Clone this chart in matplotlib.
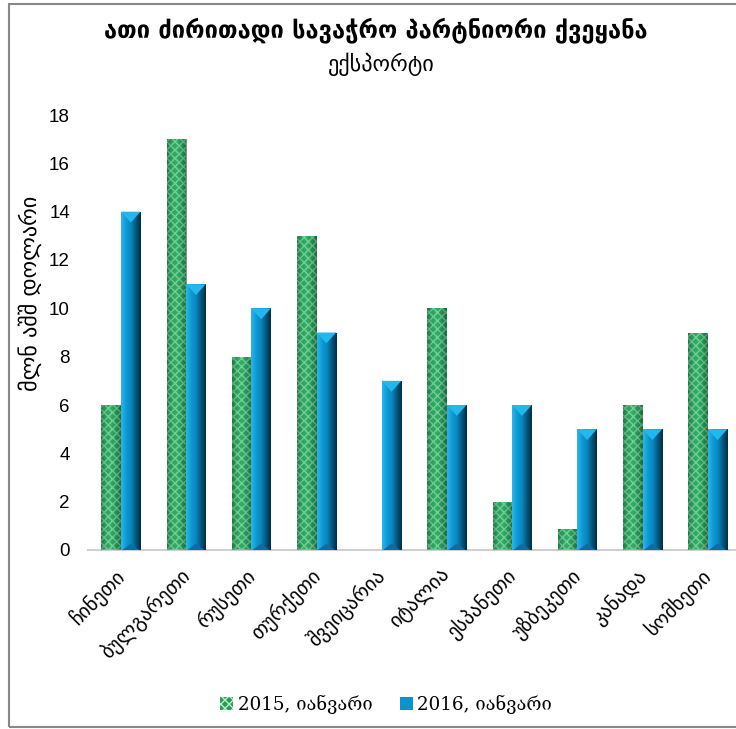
import numpy as np
import matplotlib
matplotlib.use('Agg')
import matplotlib.pyplot as plt
import matplotlib.transforms as mtransforms
from matplotlib.patches import Rectangle, Polygon
from matplotlib.colors import LinearSegmentedColormap

plt.rcParams['font.family'] = ['DejaVu Sans']

# data
countries = ['ჩინეთი', 'ბულგარეთი', 'რუსეთი', 'თურქეთი', 'შვეიცარია',
             'იტალია', 'ესპანეთი', 'უზბეკეთი', 'კანადა', 'სომხეთი']
exp_2015 = [6, 17, 8, 13, 0, 10, 2, 0.85, 6, 9]
exp_2016 = [14, 11, 10, 9, 7, 6, 6, 5, 5, 5]
series_names = ['2015, იანვარი', '2016, იანვარი']
title = 'ათი ძირითადი სავაჭრო პარტნიორი ქვეყანა'
subtitle = 'ექსპორტი'
ylabel = 'მლნ აშშ დოლარი'

W, H = 736, 729
fig = plt.figure(figsize=(W / 100, H / 100), dpi=100)
# plot area in pixels: left 88, right 736, baseline at y=550, top at y=115
ax = fig.add_axes([88 / W, (H - 550) / H, 648 / W, 435 / H])

x = np.arange(len(countries))
bw = 0.3

green_cmap = LinearSegmentedColormap.from_list(
    'g', ['#0f5f33', '#2fa864', '#3cbf74', '#1e8a4c', '#0b4525'])
blue_cmap = LinearSegmentedColormap.from_list(
    'b', ['#2bb6ea', '#0e9ad6', '#0a86be', '#04587e', '#012e44'])
grad = np.linspace(0, 1, 64).reshape(1, -1)

bars15 = ax.bar(x - bw / 2, exp_2015, bw, color='#2a9a5a', edgecolor='#b9efc8',
                hatch='xxxx', linewidth=0, label=series_names[0], zorder=2)
bars16 = ax.bar(x + bw / 2, exp_2016, bw, color='#0b93cf', linewidth=0,
                label=series_names[1], zorder=2)

for b in bars15:
    if b.get_height() <= 0:
        continue
    x0, w, h = b.get_x(), b.get_width(), b.get_height()
    im = ax.imshow(grad, cmap=green_cmap, aspect='auto', alpha=0.55,
                   extent=[x0, x0 + w, 0, h], zorder=3)
    im.set_clip_path(b)

for b in bars16:
    x0, w, h = b.get_x(), b.get_width(), b.get_height()
    im = ax.imshow(grad, cmap=blue_cmap, aspect='auto',
                   extent=[x0, x0 + w, 0, h], zorder=3)
    im.set_clip_path(b)
    d = 0.45
    ax.add_patch(Polygon([[x0, h], [x0 + w, h], [x0 + w / 2, h - d]],
                         closed=True, color='#22b8ee', lw=0, zorder=4))
    ax.add_patch(Polygon([[x0 + 0.02, 0], [x0 + w - 0.02, 0], [x0 + w / 2, d * 0.6]],
                         closed=True, color='#0a6f9c', lw=0, zorder=4))

ax.set_xlim(-0.506, -0.506 + 648 / 65.2)
ax.set_ylim(0, 18)
ax.set_yticks(range(0, 19, 2))
ax.tick_params(axis='y', length=0, pad=13, labelsize=13.5)
for t in ax.get_yticklabels():
    t.set_fontfamily('Liberation Sans')
ax.set_xticks(x)
ax.set_xticklabels(countries, rotation=45, ha='right', rotation_mode='anchor',
                   fontsize=14.5, fontfamily='DejaVu Sans')
ax.tick_params(axis='x', length=0, pad=11)
shift = mtransforms.ScaledTranslation(-5 / 72, 0, fig.dpi_scale_trans)
for t in ax.get_xticklabels():
    t.set_transform(t.get_transform() + shift)
for s in ['top', 'right', 'left']:
    ax.spines[s].set_visible(False)
ax.spines['bottom'].set_color('#d0d0d0')
ax.spines['bottom'].set_linewidth(1.5)

fig.text(376 / W, 1 - 30 / H, title, ha='center', va='center',
         fontsize=17, fontweight='bold')
fig.text(381 / W, 1 - 64 / H, subtitle, ha='center', va='center', fontsize=16)
fig.text(30 / W, 1 - 293 / H, ylabel, ha='center', va='center',
         rotation=90, fontsize=16)

leg = fig.legend(loc='center', bbox_to_anchor=(386 / W, 1 - 704 / H), ncol=2,
                 frameon=False, handlelength=0.7, handleheight=0.7,
                 handletextpad=0.25, columnspacing=1.5,
                 prop={'family': ['DejaVu Serif', 'DejaVu Sans'], 'size': 13.2})
leg.legend_handles[0].set_edgecolor('#b9efc8')
leg.legend_handles[1].set_facecolor('#0b93cf')

fig.add_artist(Rectangle((9 / W, 1 - 727 / H), 1, 723 / H, transform=fig.transFigure,
                         fill=False, edgecolor='#888888', lw=1.5))

fig.savefig('out.png', dpi=100)
